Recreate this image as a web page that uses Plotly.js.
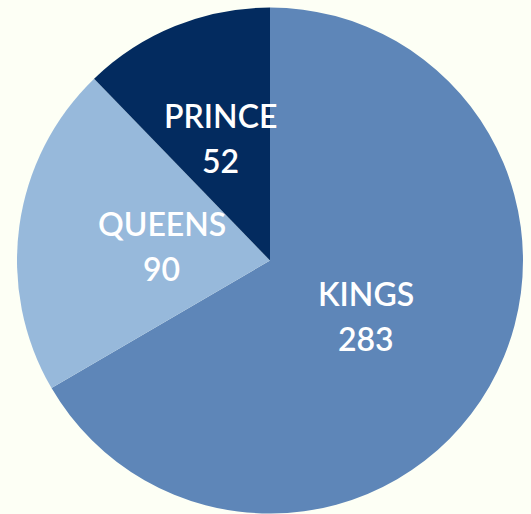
<!DOCTYPE html>
<html>
<head>
<meta charset="utf-8">
<script src="https://cdn.plot.ly/plotly-3.0.1.min.js"></script>
<style>html,body{margin:0;padding:0;background:#fdfff5;}</style>
</head>
<body>
<div id="chart" style="width:531px;height:514px;"></div>
<script>
const labels = ["KINGS", "QUEENS", "PRINCE"];
const values = [283, 90, 52];
const colors = ["#5e86b8", "#97b9db", "#032b5f"];

// style: radial position of each label (fraction of radius)
const labelRadius = [0.437, 0.432, 0.526];

const W = 531, H = 514;
const margin = {l: 17, r: 8, t: 7, b: 0};
const pw = W - margin.l - margin.r, ph = H - margin.t - margin.b;
const R = Math.min(pw, ph) / 2;
const total = values.reduce((a, b) => a + b, 0);
const font = {family: "Lato, 'Open Sans', sans-serif", size: 32, color: "#ffffff", weight: 600};

const annotations = [];
let cum = 0;
values.forEach((v, i) => {
  const mid = (cum + v / 2) / total * 2 * Math.PI;
  cum += v;
  const d = labelRadius[i] * R;
  const x = 0.5 + d * Math.sin(mid) / pw;
  const y = 0.5 + d * Math.cos(mid) / ph;
  annotations.push({xref: "paper", yref: "paper", x: x, y: y, text: labels[i], showarrow: false,
    xanchor: "center", yanchor: "middle", yshift: 22, font: font});
  annotations.push({xref: "paper", yref: "paper", x: x, y: y, text: String(v), showarrow: false,
    xanchor: "center", yanchor: "middle", yshift: -23, font: font});
});

Plotly.newPlot("chart", [{
  type: "pie",
  labels: labels,
  values: values,
  sort: false,
  direction: "clockwise",
  rotation: 0,
  marker: {colors: colors, line: {width: 0}},
  textinfo: "none",
  hoverinfo: "none"
}], {
  width: W,
  height: H,
  margin: margin,
  paper_bgcolor: "#fdfff5",
  plot_bgcolor: "#fdfff5",
  showlegend: false,
  annotations: annotations
}, {displayModeBar: false, staticPlot: true});
</script>
</body>
</html>
